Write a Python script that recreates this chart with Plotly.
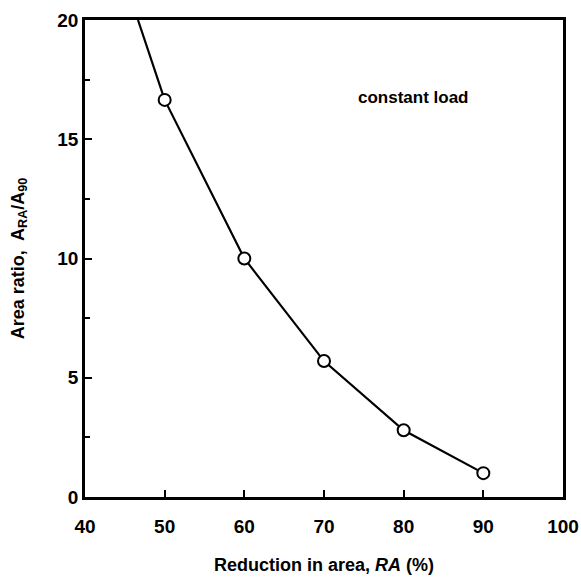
import plotly.graph_objects as go

ra = [50, 60, 70, 80, 90]
ratio = [16.65, 10.0, 5.7, 2.8, 1.0]
# curve continues above the first point to the top edge
line_x = [46.65, 50, 60, 70, 80, 90]
line_y = [20.0, 16.65, 10.0, 5.7, 2.8, 1.0]

FONT = "Liberation Sans, Arial, Helvetica"

fig = go.Figure()
fig.add_trace(go.Scatter(x=line_x, y=line_y, mode="lines",
                         line=dict(color="black", width=2.2), showlegend=False))
fig.add_trace(go.Scatter(x=ra, y=ratio, mode="markers",
                         marker=dict(symbol="circle", size=12, color="white",
                                     line=dict(color="black", width=2)),
                         showlegend=False, cliponaxis=False))

fig.add_annotation(x=81.2, y=16.77, text="<b>constant load</b>", showarrow=False,
                   font=dict(size=17, color="black", family=FONT))

axis_font = dict(size=19, color="black", family=FONT, weight="bold")
fig.update_xaxes(range=[40, 100], dtick=10, tick0=40, ticks="inside", ticklen=7,
                 tickwidth=2, tickcolor="black", showline=True, linewidth=2.5,
                 linecolor="black", mirror=True, showgrid=False, zeroline=False,
                 tickfont=axis_font, ticklabelstandoff=10, automargin=False,
                 title=dict(text="Reduction in area, <i>RA</i> (%)",
                            font=dict(size=18, color="black", family=FONT, weight="bold"),
                            standoff=23))
fig.update_yaxes(range=[0, 20], dtick=5, tick0=0, ticks="inside", ticklen=7,
                 tickwidth=2, tickcolor="black", showline=True, linewidth=2.5,
                 linecolor="black", mirror=True, showgrid=False, zeroline=False,
                 tickfont=axis_font, ticklabelstandoff=0, automargin=False,
                 minor=dict(dtick=2.5, ticks="inside", ticklen=5, tickwidth=1.5,
                            tickcolor="black", showgrid=False),
                 title=dict(text="Area ratio,  A<sub>RA</sub>/A<sub>90</sub>",
                            font=dict(size=18, color="black", family=FONT, weight="bold"),
                            standoff=29))

fig.update_layout(width=581, height=578, margin=dict(l=85, r=18, t=20, b=81),
                  plot_bgcolor="white", paper_bgcolor="white")

fig.write_html("out.html", config={"displayModeBar": False},
               post_script="document.body.style.margin='0';"
                           "document.body.style.overflow='hidden';")
